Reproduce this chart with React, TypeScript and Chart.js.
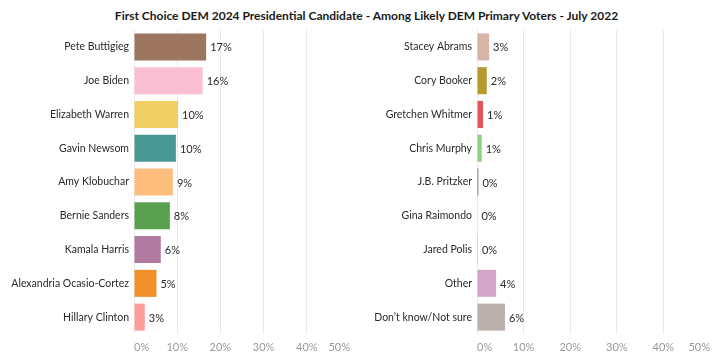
import React, { useEffect, useRef } from "react";
import { Chart, registerables } from "chart.js";

Chart.register(...registerables);

const TITLE = "First Choice DEM 2024 Presidential Candidate - Among Likely DEM Primary Voters - July 2022";

const leftCandidates = [
  "Pete Buttigieg",
  "Joe Biden",
  "Elizabeth Warren",
  "Gavin Newsom",
  "Amy Klobuchar",
  "Bernie Sanders",
  "Kamala Harris",
  "Alexandria Ocasio-Cortez",
  "Hillary Clinton",
];
const leftValues = [16.7, 15.9, 10.2, 9.7, 9.0, 8.3, 6.2, 5.2, 2.5];
const leftColors = [
  "#9D7660", "#FABFD2", "#F1CE63", "#499894", "#FFBE7D",
  "#59A14F", "#B07AA1", "#F28E2B", "#FF9D9A",
];

const rightCandidates = [
  "Stacey Abrams",
  "Cory Booker",
  "Gretchen Whitmer",
  "Chris Murphy",
  "J.B. Pritzker",
  "Gina Raimondo",
  "Jared Polis",
  "Other",
  "Don\u2019t know/Not sure",
];
const rightValues = [2.6, 2.1, 1.3, 1.0, 0.3, 0.1, 0.2, 4.1, 6.0];
const rightColors = [
  "#D7B5A6", "#B6992D", "#E15759", "#8CD17D", "#79706E",
  "#D9D9D9", "#BAB0AC", "#D4A6C8", "#BAB0AC",
];

const xTicks = [0, 10, 20, 30, 40, 50];

const FONT = "Lato";

const valueLabelPlugin = {
  id: "valueLabels",
  afterDatasetsDraw(chart: any) {
    const ctx = chart.ctx;
    const meta = chart.getDatasetMeta(0);
    const data = chart.data.datasets[0].data as number[];
    ctx.save();
    ctx.font = `11px ${FONT}`;
    ctx.fillStyle = "#2a2a2a";
    ctx.textAlign = "left";
    ctx.textBaseline = "middle";
    meta.data.forEach((bar: any, i: number) => {
      ctx.fillText(Math.round(data[i]) + "%", bar.x + 4, bar.y + 1);
    });
    ctx.restore();
  },
};

function BarPanel(props: {
  labels: string[];
  values: number[];
  colors: string[];
  left: number;
  width: number;
  yWidth: number;
}) {
  const ref = useRef<HTMLCanvasElement>(null);
  useEffect(() => {
    if (!ref.current) return;
    const chart = new Chart(ref.current, {
      type: "bar",
      data: {
        labels: props.labels,
        datasets: [
          {
            data: props.values,
            backgroundColor: props.colors,
            borderWidth: 0,
            barPercentage: 0.8,
            categoryPercentage: 1,
          },
        ],
      },
      options: {
        indexAxis: "y",
        responsive: false,
        maintainAspectRatio: false,
        animation: false,
        layout: { padding: 0 },
        plugins: {
          legend: { display: false },
          tooltip: { enabled: false },
        },
        scales: {
          x: {
            min: 0,
            max: 50,
            afterBuildTicks: (s: any) => {
              s.ticks = xTicks.map((v) => ({ value: v }));
            },
            afterFit: (s: any) => {
              s.height = 22;
              s.paddingLeft = 0;
              s.paddingRight = 0;
            },
            grid: { color: "#e9e9e9", drawTicks: false, lineWidth: 1 },
            border: { display: false },
            ticks: {
              align: "inner",
              color: "#9a9a9a",
              padding: 7,
              font: { family: FONT, size: 11 },
              callback: (v: any) => v + "%",
            },
          },
          y: {
            afterFit: (s: any) => {
              s.width = props.yWidth;
              s.paddingTop = 0;
              s.paddingBottom = 0;
            },
            grid: { display: false, drawTicks: false },
            border: { display: false },
            ticks: {
              color: "#2a2a2a",
              padding: 5,
              font: { family: FONT, size: 10.5 },
            },
          },
        },
      },
      plugins: [valueLabelPlugin],
    } as any);
    return () => chart.destroy();
  }, []);
  return (
    <canvas
      ref={ref}
      width={props.width}
      height={326}
      style={{ position: "absolute", left: props.left, top: 30, width: props.width, height: 326 }}
    />
  );
}

export default function App() {
  return (
    <div
      style={{
        position: "absolute",
        left: 0,
        top: 0,
        width: 723,
        height: 356,
        background: "#ffffff",
        overflow: "hidden",
      }}
    >
      <div
        style={{
          position: "absolute",
          left: 10,
          top: 8,
          width: 713,
          textAlign: "center",
          fontFamily: FONT,
          fontWeight: 700,
          fontSize: 12,
          color: "#1a1a1a",
          whiteSpace: "nowrap",
        }}
      >
        {TITLE}
      </div>
      <BarPanel labels={leftCandidates} values={leftValues} colors={leftColors} left={0} width={350} yWidth={134} />
      <BarPanel labels={rightCandidates} values={rightValues} colors={rightColors} left={360} width={350} yWidth={117} />
    </div>
  );
}
